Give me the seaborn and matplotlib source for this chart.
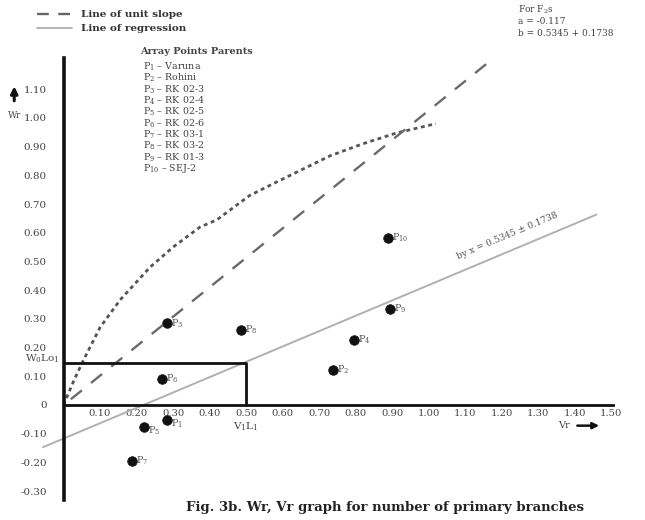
import matplotlib
matplotlib.use("Agg")
import matplotlib.pyplot as plt
import seaborn as sns
import pandas as pd
import numpy as np

sns.set_theme(style="white")
plt.rcParams["font.family"] = ["DejaVu Serif"]
plt.rcParams["mathtext.fontset"] = "dejavuserif"

# Array points (Vr, Wr) of the ten parents
parents = ["P$_1$", "P$_2$", "P$_3$", "P$_4$", "P$_5$", "P$_6$", "P$_7$", "P$_8$", "P$_9$", "P$_{10}$"]
vr = [0.283, 0.738, 0.283, 0.796, 0.220, 0.271, 0.187, 0.486, 0.894, 0.889]
wr = [-0.052, 0.122, 0.284, 0.226, -0.077, 0.090, -0.195, 0.261, 0.334, 0.582]
parent_names = ["Varuna", "Rohini", "RK 02-3", "RK 02-4", "RK 02-5",
                "RK 02-6", "RK 03-1", "RK 03-2", "RK 01-3", "SEJ-2"]

# Regression Wr = a + b Vr
a_coef = -0.117
b_coef = 0.5345
b_se = 0.1738
reg_x = [-0.056, 1.46]

# Line of unit slope
unit_x = [0.02, 1.17]
unit_y = [0.02, 1.20]

# Limiting parabola (dotted curve)
para_vr = [0.0, 0.03, 0.055, 0.10, 0.155, 0.237, 0.30, 0.374, 0.42, 0.51, 0.584, 0.73, 0.82, 0.913, 1.02]
para_wr = [0.0, 0.09, 0.157, 0.27, 0.366, 0.48, 0.55, 0.62, 0.645, 0.73, 0.777, 0.868, 0.91, 0.948, 0.98]

# W0L01 / V1L1 guide
w0l01 = 0.148
v1l1 = 0.50

xticks = [0.1 * i for i in range(1, 16)]
yticks = [round(-0.3 + 0.1 * i, 2) for i in range(15)]

fig = plt.figure(figsize=(6.45, 5.2), dpi=100)
ax = fig.add_axes([0, 0, 1, 1])
ax.set_xlim(-0.174, 1.593)
ax.set_ylim(-0.4007, 1.411)

# Curves
df_para = pd.DataFrame({"Vr": para_vr, "Wr": para_wr})
sns.lineplot(data=df_para, x="Vr", y="Wr", sort=False, ax=ax, color="#555555",
             lw=2.0, linestyle=(0, (1.4, 1.3)))
df_unit = pd.DataFrame({"Vr": unit_x, "Wr": unit_y})
sns.lineplot(data=df_unit, x="Vr", y="Wr", sort=False, ax=ax, color="#6a6a6a",
             lw=1.7, linestyle=(0, (6, 5)))
reg_y = [a_coef + b_coef * x for x in reg_x]
df_reg = pd.DataFrame({"Vr": reg_x, "Wr": reg_y})
sns.lineplot(data=df_reg, x="Vr", y="Wr", sort=False, ax=ax, color="#b0b0b0", lw=1.4)

# W0L01 - V1L1 box
ax.plot([0, v1l1, v1l1], [w0l01, w0l01, 0], color="#111111", lw=2.0)

# Points
df_pts = pd.DataFrame({"Vr": vr, "Wr": wr, "label": parents})
sns.scatterplot(data=df_pts, x="Vr", y="Wr", ax=ax, color="#111111", s=48,
                marker="o", edgecolor="#111111", linewidth=0.5, zorder=5)
for x, y, lab in zip(vr, wr, parents):
    dy = -0.014 if -0.1 < y < 0 else 0.0
    ax.text(x + 0.011, y + dy, lab, fontsize=6.8, color="#555555", va="center", ha="left")

# Axes
for s in ["top", "right"]:
    ax.spines[s].set_visible(False)
ax.spines["left"].set_position(("data", 0))
ax.spines["bottom"].set_position(("data", 0))
ax.spines["left"].set_bounds(-0.33, 1.21)
ax.spines["bottom"].set_bounds(0, 1.505)
ax.spines["left"].set_linewidth(2.6)
ax.spines["bottom"].set_linewidth(2.0)
ax.spines["left"].set_color("#111111")
ax.spines["bottom"].set_color("#111111")

ax.set_xticks(xticks)
ax.set_xticklabels([f"{t:.2f}" for t in xticks])
ax.set_yticks(yticks)
ax.set_yticklabels(["0" if abs(t) < 1e-9 else f"{t:.2f}" for t in yticks])
ax.tick_params(axis="x", direction="inout", length=3, width=1, pad=1.5,
               labelsize=7.2, labelcolor="#444444", colors="#444444")
ax.tick_params(axis="y", direction="inout", length=4, width=1, pad=10,
               labelsize=7.5, labelcolor="#444444", colors="#444444")
ax.set_xlabel("")
ax.set_ylabel("")

# Axis names with arrows
ax.annotate("", xy=(-0.135, 1.12), xytext=(-0.135, 1.05),
            arrowprops=dict(arrowstyle="-|>", color="#111111", lw=2.2, mutation_scale=10))
ax.text(-0.135, 1.01, "Wr", fontsize=6.5, color="#444444", ha="center", va="center")
ax.text(1.37, -0.072, "Vr", fontsize=7, color="#444444", ha="center", va="center")
ax.annotate("", xy=(1.475, -0.072), xytext=(1.40, -0.072),
            arrowprops=dict(arrowstyle="-|>", color="#111111", lw=1.8, mutation_scale=9))

ax.text(-0.01, w0l01 + 0.012, "W$_0$Lo$_1$", fontsize=7.5, color="#444444", ha="right", va="center")
ax.text(v1l1, -0.075, "V$_1$L$_1$", fontsize=7.5, color="#444444", ha="center", va="center")

# Regression label along the line
ang = np.degrees(np.arctan(b_coef * 287 / 365))
ax.text(1.22, 0.575, f"by x = {b_coef} ± {b_se}", fontsize=6.5, color="#555555",
        rotation=ang, rotation_mode="anchor", ha="center", va="bottom")

# Key
ax.plot([-0.074, 0.024], [1.362, 1.362], color="#666666", lw=1.7, linestyle=(0, (5, 4)))
ax.text(0.047, 1.362, "Line of unit slope", fontsize=7.5, color="#333333", va="center",
        fontweight="semibold")
ax.plot([-0.074, 0.024], [1.313, 1.313], color="#b0b0b0", lw=1.3)
ax.text(0.047, 1.313, "Line of regression", fontsize=7.5, color="#333333", va="center",
        fontweight="semibold")
ax.text(0.21, 1.23, "Array Points Parents", fontsize=7, color="#444444", va="center",
        fontweight="semibold")
for i, (p, n) in enumerate(zip(parents, parent_names)):
    ax.text(0.218, 1.178 - i * 0.0395, f"{p} – {n}", fontsize=6.8, color="#444444",
            va="center")

# Regression constants
ax.text(1.245, 1.377, "For F$_2$s", fontsize=6.5, color="#444444", va="center")
ax.text(1.245, 1.335, f"a = {a_coef}", fontsize=6.5, color="#444444", va="center")
ax.text(1.245, 1.293, f"b = {b_coef} + {b_se}", fontsize=6.5, color="#444444", va="center")

# Caption
fig.text(0.597, 0.025, "Fig. 3b. Wr, Vr graph for number of primary branches",
         fontsize=9.5, fontweight="bold", color="#222222", ha="center", va="center")

fig.savefig("out.png", dpi=100)
